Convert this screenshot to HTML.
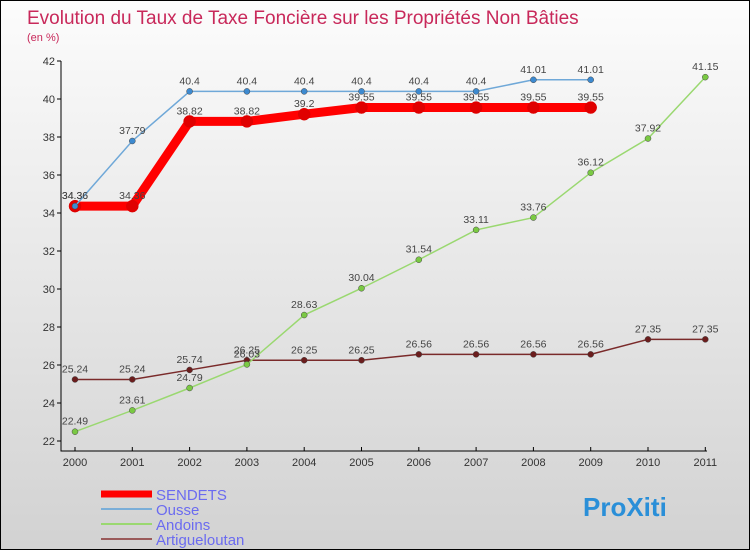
<!DOCTYPE html>
<html><head><meta charset="utf-8"><style>
body{margin:0;}
#c{width:748px;height:548px;border:1px solid #000;background:linear-gradient(#fcfcfc,#d2d2d2);position:relative;font-family:"Liberation Sans",sans-serif;}
</style></head><body>
<div id="c">
<svg id="s" width="748" height="548">
<text x="26" y="23" font-size="19" fill="#c8285a">Evolution du Taux de Taxe Foncière sur les Propriétés Non Bâties</text>
<text x="26" y="40" font-size="11" fill="#c8285a">(en %)</text>
</svg></div>
<script>
const years=[2000,2001,2002,2003,2004,2005,2006,2007,2008,2009,2010,2011];
const yTicks=[22,24,26,28,30,32,34,36,38,40,42];
const sendets=[34.36,34.36,38.82,38.82,39.2,39.55,39.55,39.55,39.55,39.55];
const ousse=[34.36,37.79,40.4,40.4,40.4,40.4,40.4,40.4,41.01,41.01];
const andoins=[22.49,23.61,24.79,26.03,28.63,30.04,31.54,33.11,33.76,36.12,37.92,41.15];
const artig=[25.24,25.24,25.74,26.25,26.25,26.25,26.56,26.56,26.56,26.56,27.35,27.35];
const names=["SENDETS","Ousse","Andoins","Artigueloutan"];
const s=document.getElementById('s'),NS="http://www.w3.org/2000/svg";
const X=i=>74+i*57.3, Y=v=>440-(v-22)*19;
function mk(t,a,p){const e=document.createElementNS(NS,t);for(const k in a)e.setAttribute(k,a[k]);(p||s).appendChild(e);return e;}
let ax=mk('path',{d:`M60 60V450H706`,stroke:'#000',fill:'none'});


yTicks.forEach(v=>{mk('line',{x1:56,x2:60,y1:Y(v),y2:Y(v),stroke:'#000'});
 const t=mk('text',{x:54,y:Y(v)+4,'text-anchor':'end','font-size':11,fill:'#333'});t.textContent=v;
 
 });
years.forEach((y,i)=>{mk('line',{x1:X(i),x2:X(i),y1:446,y2:450,stroke:'#000'});
 const t=mk('text',{x:X(i),y:465,'text-anchor':'middle','font-size':11,fill:'#333'});t.textContent=y;
 
 });
function series(d,col,w,r,fillc,name){
 const g=mk('g',{});
 
 
 mk('polyline',{points:d.map((v,i)=>X(i)+','+Y(v)).join(' '),stroke:col,'stroke-width':w,fill:'none'},g);
 d.forEach((v,i)=>{mk('circle',{cx:X(i),cy:Y(v),r:r,fill:fillc,stroke:col==='#f00'?'#d00':'#444','stroke-width':0.5},g);
  const t=mk('text',{x:X(i),y:Y(v)-7,'text-anchor':'middle','font-size':10.5,fill:'#444'},g);t.textContent=v;});
}
series(artig,'#7a2a2a',1.5,3,'#6b1d1d','series-artigueloutan');
series(andoins,'#9ad870',1.5,3,'#7ac943','series-andoins');
series(sendets,'#f00',9,6,'#e00000','series-sendets');
series(ousse,'#6fa8d8',1.5,3,'#3d8ad0','series-ousse');
const lc=['#f00','#7aaed8','#9ad870','#9a5a5a'],lw=[7,2,2,2];
names.forEach((n,i)=>{const y=493+i*15;
 const l=mk('line',{x1:100,x2:151,y1:y,y2:y,stroke:lc[i],'stroke-width':lw[i]});
 
 
 const t=mk('text',{x:155,y:y+6,'font-size':15,fill:'#6b6bf0'});t.textContent=n;
 
 });
const lg=mk('text',{x:582,y:515,'font-size':26,'font-weight':'bold',fill:'#2a8fd8'});
lg.textContent='ProXiti';


</script></body></html>
